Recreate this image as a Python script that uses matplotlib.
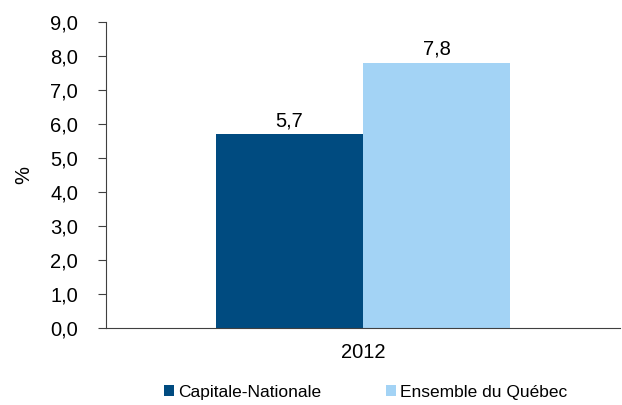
import numpy as np
from matplotlib import pyplot as plt

plt.rcParams['font.family'] = ['Liberation Sans', 'DejaVu Sans']

years = ['2012']
series = ['Capitale-Nationale', 'Ensemble du Québec']
values = [5.7, 7.8]
colors = ['#004b80', '#a3d3f5']
yticks = np.arange(0, 9.01, 1.0)

fig = plt.figure(figsize=(6.22, 4.05), dpi=100)
ax = fig.add_axes([106/622, 1 - 328/405, 514/622, 306/405])

w = 0.286
x = np.arange(len(years))
for i, (name, v, c) in enumerate(zip(series, values, colors)):
    pos = x + (i - 0.5) * w
    ax.bar(pos, [v], width=w, color=c, label=name)
    ax.text(pos[0], v + 0.12, f'{v:.1f}'.replace('.', ','), ha='center', va='bottom', fontsize=14.5)

ax.set_xlim(-0.5, 0.5)
ax.set_ylim(0, 9)
ax.set_yticks(yticks)
ax.set_yticklabels([f'{t:.1f}'.replace('.', ',') for t in yticks], fontsize=14.5)
ax.set_xticks(x)
ax.set_xticklabels(years, fontsize=14.5)
ax.tick_params(axis='x', length=0, pad=11)
ax.tick_params(axis='y', length=6, color='#404040', pad=14)
ax.set_ylabel('%', fontsize=14.5, labelpad=12)
for s in ['top', 'right']:
    ax.spines[s].set_visible(False)
for s in ['left', 'bottom']:
    ax.spines[s].set_color('#404040')

fig.legend(loc='lower center', bbox_to_anchor=(0.588, -0.025), ncol=2, frameon=False,
           fontsize=12.5, handlelength=0.55, handleheight=0.55, handletextpad=0.25,
           columnspacing=3.75)

fig.savefig('out.png', dpi=100)
